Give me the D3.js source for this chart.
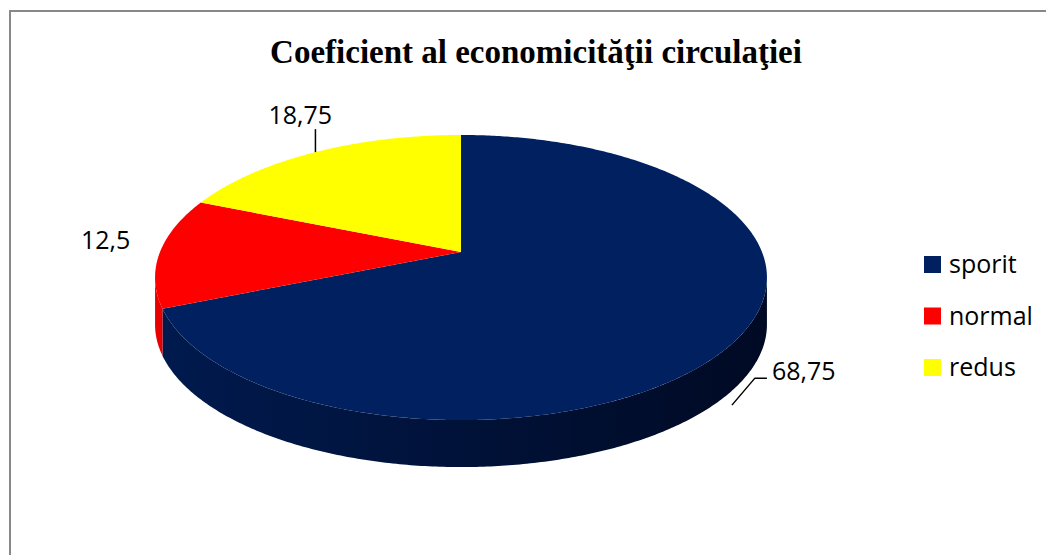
<!DOCTYPE html>
<html>
<head>
<meta charset="utf-8">
<script src="https://cdn.jsdelivr.net/npm/d3@7"></script>
<style>
  body { margin: 0; background: #fff; }
  svg { display: block; }
  .title { font-family: "Liberation Serif", "Times New Roman", serif; font-weight: bold; font-size: 33px; }
  .lbl, .legend text { font-family: "Open Sans", sans-serif; font-size: 25px; fill: #000; }
</style>
</head>
<body>
<svg width="1046" height="555"></svg>
<script>
const categories = ['sporit', 'normal', 'redus'];
const values = [68.75, 12.5, 18.75];
const valueLabels = ['68,75', '12,5', '18,75'];

const topColors = ['#002060', '#ff0000', '#ffff00'];
const wallColors = [['#001a4e', '#000a24'], ['#e80000', '#b00000'], ['#e0e000', '#b0b000']];

const svg = d3.select('svg');
const width = +svg.attr('width');
const height = +svg.attr('height');

// pie geometry (perspective ellipse)
const cx = 461, cy = 252, rx = 301, ry = 138, k = 0.179, depth = 47;

const proj = a => {
	const u = Math.sin(a), v = -Math.cos(a);
	const w = 1 - k * v;
	return [cx + rx * u / w, cy + ry * v / w];
};

const sample = (a0, a1) => {
	const n = Math.max(2, Math.ceil(Math.abs(a1 - a0) / 0.01));
	return d3.range(n + 1).map(i => a0 + (a1 - a0) * i / n);
};

// chart frame
svg.append('rect')
	.attr('x', 10).attr('y', 11)
	.attr('width', width + 20).attr('height', height + 20)
	.attr('fill', '#fff')
	.attr('stroke', '#888')
	.attr('stroke-width', 2);

svg.append('text')
	.attr('class', 'title')
	.attr('x', 536)
	.attr('y', 63)
	.attr('text-anchor', 'middle')
	.text('Coeficient al economicităţii circulaţiei');

const pie = d3.pie().sort(null).value(d => d);
const arcs = pie(values);

const defs = svg.append('defs');
wallColors.forEach((c, i) => {
	const grad = defs.append('linearGradient')
		.attr('id', 'wall' + i)
		.attr('gradientUnits', 'userSpaceOnUse')
		.attr('x1', cx - rx).attr('x2', cx + rx)
		.attr('y1', 0).attr('y2', 0);
	grad.append('stop').attr('offset', '0%').attr('stop-color', c[0]);
	grad.append('stop').attr('offset', '100%').attr('stop-color', c[1]);
});

const line = d3.line();
const g = svg.append('g');

// side walls (only the front, visible part)
const visA = Math.acos(-k), visB = 2 * Math.PI - visA;
arcs.forEach((d, i) => {
	const a0 = Math.max(d.startAngle, visA);
	const a1 = Math.min(d.endAngle, visB);
	if (a1 <= a0) return;
	const topPts = sample(a0, a1).map(proj);
	const botPts = topPts.map(p => [p[0], p[1] + depth]).reverse();
	g.append('path')
		.attr('d', line(topPts.concat(botPts)) + 'Z')
		.attr('fill', `url(#wall${i})`);
});

// top faces
arcs.forEach((d, i) => {
	const pts = [[cx, cy]].concat(sample(d.startAngle, d.endAngle).map(proj));
	g.append('path')
		.attr('d', line(pts) + 'Z')
		.attr('fill', topColors[i]);
});

// data labels
const labelLayout = [
	{ dx: 33, dy: 43, lead: [[-7, 68], [16, 41], [28, 41]] },
	{ dx: -79, dy: -3, lead: null },
	{ dx: -47, dy: -28, lead: [[0, 0], [0, -23]] }
];
arcs.forEach((d, i) => {
	const p = proj((d.startAngle + d.endAngle) / 2);
	const L = labelLayout[i];
	if (L.lead) {
		g.append('path')
			.attr('d', line(L.lead.map(o => [p[0] + o[0], p[1] + o[1]])))
			.attr('fill', 'none')
			.attr('stroke', '#000')
			.attr('stroke-width', 1.5);
	}
	g.append('text')
		.attr('class', 'lbl')
		.attr('x', p[0] + L.dx)
		.attr('y', p[1] + L.dy)
		.text(valueLabels[i]);
});

// legend
const legend = svg.append('g').attr('class', 'legend')
	.attr('transform', 'translate(924, 256)');
const item = legend.selectAll('g').data(categories)
	.enter().append('g')
		.attr('transform', (d, i) => `translate(0, ${i * 51.5})`);
item.append('rect')
	.attr('width', 17).attr('height', 17)
	.attr('fill', (d, i) => topColors[i]);
item.append('text')
	.attr('x', 25)
	.attr('y', 17)
	.text(d => d);
</script>
</body>
</html>
